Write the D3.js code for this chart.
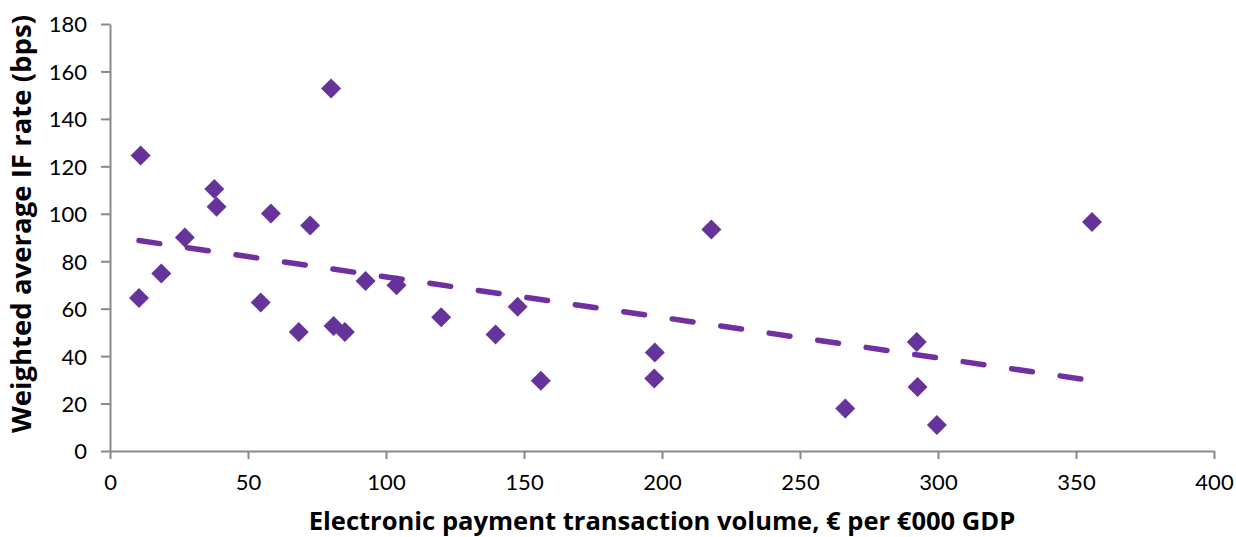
<!DOCTYPE html>
<html>
<head>
<meta charset="utf-8">
<script src="https://cdn.jsdelivr.net/npm/d3@7/dist/d3.min.js"></script>
<style>
  html, body { margin: 0; padding: 0; background: #fff; }
  svg { display: block; }
  .tick text { font-family: Lato, "Open Sans", sans-serif; font-size: 22px; fill: #000; }
  .title { font-family: "Open Sans", Lato, sans-serif; font-size: 24px; font-weight: bold; fill: #000; }
</style>
</head>
<body>
<svg id="chart" width="1236" height="537"></svg>
<script>
// Electronic payment transaction volume (€ per €000 GDP) by country
const volume = [10.5, 11.1, 18.6, 27.1, 37.8, 38.6, 54.6, 58.3, 68.4, 72.5,
                80.1, 81.0, 85.1, 92.6, 103.8, 120.0, 139.7, 147.7, 156.1,
                197.4, 197.2, 217.9, 266.4, 292.3, 292.6, 299.6, 355.8];
// Weighted average interchange fee rate (bps)
const ifRate = [64.5, 124.6, 74.8, 90.0, 110.4, 103.0, 62.6, 100.1, 50.2, 95.1,
                152.8, 52.7, 50.2, 71.7, 69.9, 56.4, 49.1, 60.8, 29.6,
                41.5, 30.6, 93.4, 17.9, 46.0, 27.0, 11.0, 96.5];
// Linear trend endpoints
const trendX = [10.5, 355.8];
const trendY = [88.7, 29.7];

const xTicks = [0, 50, 100, 150, 200, 250, 300, 350, 400];
const yTicks = [0, 20, 40, 60, 80, 100, 120, 140, 160, 180];

const svg = d3.select("#chart");
const plotLeft = 110, plotRight = 1214, plotTop = 24, plotBottom = 451;

const x = d3.scaleLinear().domain([0, 400]).range([plotLeft, plotRight]);
const y = d3.scaleLinear().domain([0, 180]).range([plotBottom, plotTop]);

const axisColor = "#898989";

const gx = svg.append("g")
  .attr("transform", `translate(0,${plotBottom})`)
  .call(d3.axisBottom(x).tickValues(xTicks).tickSize(8).tickPadding(15).tickSizeOuter(0));
const gy = svg.append("g")
  .attr("transform", `translate(${plotLeft},0)`)
  .call(d3.axisLeft(y).tickValues(yTicks).tickSize(9).tickPadding(14).tickSizeOuter(0));

[gx, gy].forEach(g => {
  g.select(".domain").attr("stroke", axisColor).attr("stroke-width", 2);
  g.selectAll(".tick line").attr("stroke", axisColor).attr("stroke-width", 2);
});
gy.selectAll(".tick text").attr("dy", "0.36em");
gx.selectAll(".tick text").attr("dy", "0.72em");

// Trend line
svg.append("path")
  .datum(trendX.map((d, i) => [d, trendY[i]]))
  .attr("d", d3.line().x(d => x(d[0])).y(d => y(d[1])))
  .attr("fill", "none")
  .attr("stroke", "#7030a0")
  .attr("stroke-width", 5.5)
  .attr("stroke-linecap", "round")
  .attr("stroke-dasharray", "21,28");

// Diamond markers
const diamond = "M0,-10L10,0L0,10L-10,0Z";
svg.append("g").selectAll("path")
  .data(volume.map((d, i) => [d, ifRate[i]]))
  .join("path")
  .attr("d", diamond)
  .attr("transform", d => `translate(${x(d[0])},${y(d[1])})`)
  .attr("fill", "#66339a");

// Size a title so that it spans the given width
function fitWidth(sel, width) {
  const len = sel.node().getComputedTextLength();
  sel.style("font-size", (24 * width / len).toFixed(2) + "px");
}

// Axis titles
const xTitle = svg.append("text")
  .attr("class", "title")
  .attr("x", (plotLeft + plotRight) / 2)
  .attr("y", 530)
  .attr("text-anchor", "middle")
  .text("Electronic payment transaction volume, € per €000 GDP");
fitWidth(xTitle, 707);

const yTitle = svg.append("text")
  .attr("class", "title")
  .attr("transform", `translate(31,224) rotate(-90)`)
  .attr("text-anchor", "middle")
  .text("Weighted average IF rate (bps)");
fitWidth(yTitle, 418);
</script>
</body>
</html>
